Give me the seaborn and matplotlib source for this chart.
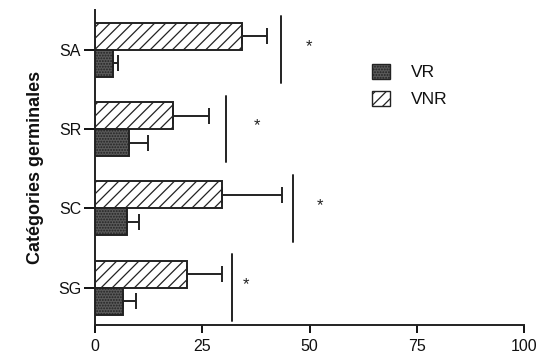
import pandas as pd
import matplotlib
matplotlib.use("Agg")
import matplotlib.pyplot as plt
import matplotlib.patches as mpatches
import seaborn as sns

# Values (percent)
categories = ["SA", "SR", "SC", "SG"]
vnr = [34.3, 18.2, 29.6, 21.4]
vnr_err = [5.8, 8.4, 14.0, 8.2]
vr = [4.2, 7.9, 7.5, 6.5]
vr_err = [1.2, 4.5, 2.8, 3.1]
sig_x = [43.4, 30.5, 46.2, 31.9]
star_x = [49.9, 37.8, 52.4, 35.2]

df = pd.DataFrame({
    "cat": categories * 2,
    "val": vnr + vr,
    "err": vnr_err + vr_err,
    "grp": ["VNR"] * 4 + ["VR"] * 4,
})

sns.set_style("ticks")
plt.rcParams["font.family"] = ["Liberation Sans", "DejaVu Sans"]
plt.rcParams["hatch.linewidth"] = 0.9
plt.rcParams["text.color"] = "#111111"
plt.rcParams["xtick.color"] = "#111111"
plt.rcParams["ytick.color"] = "#111111"
plt.rcParams["axes.labelcolor"] = "#111111"

fig = plt.figure(figsize=(5.41, 3.57), dpi=100)
ax = fig.add_axes([0.1756, 0.0896, 0.793, 0.882])

sns.barplot(data=df, x="val", y="cat", hue="grp", order=categories,
            hue_order=["VNR", "VR"], palette={"VNR": "white", "VR": "#5a5a5a"},
            width=0.68, orient="h", edgecolor="#222222", linewidth=1.4,
            errorbar=None, legend=False, ax=ax)

# hatch + one-sided error bars
for cont, errs, hatch in zip(ax.containers, [vnr_err, vr_err], ["///", "......"]):
    for bar, e in zip(cont, errs):
        bar.set_hatch(hatch)
        yc = bar.get_y() + bar.get_height() / 2
        w = bar.get_width()
        ax.errorbar(w, yc, xerr=[[0], [e]], fmt="none", ecolor="#222222",
                    elinewidth=1.4, capsize=6, capthick=1.4)

# significance lines and stars
for i, (sx, st) in enumerate(zip(sig_x, star_x)):
    ax.plot([sx, sx], [i - 0.42, i + 0.42], color="#222222", lw=1.4)
    ax.text(st, i - 0.04, "*", ha="center", va="center", fontsize=12, color="#222222")

ax.set_xlim(0, 100)
ax.set_ylim(3.47, -0.5)
ax.set_xticks([0, 25, 50, 75, 100])
ax.set_xlabel("")
ax.set_ylabel("Catégories germinales", fontsize=13, fontweight="bold", labelpad=10)
ax.tick_params(axis="y", length=8, width=1.4, labelsize=11.5, pad=2)
ax.tick_params(axis="x", length=6, width=1.4, labelsize=11.5, pad=4)
for s in ["left", "bottom"]:
    ax.spines[s].set_linewidth(1.4)
    ax.spines[s].set_color("#222222")
sns.despine(ax=ax)

handles = [mpatches.Patch(facecolor="#5a5a5a", edgecolor="#222222", hatch="......", label="VR"),
           mpatches.Patch(facecolor="white", edgecolor="#222222", hatch="///", label="VNR")]
ax.legend(handles=handles, loc="upper left", bbox_to_anchor=(0.61, 0.88), frameon=False,
          fontsize=12.5, handlelength=1.0, handleheight=1.0, handletextpad=1.2, labelspacing=0.6)

plt.savefig("out.png", dpi=100)
